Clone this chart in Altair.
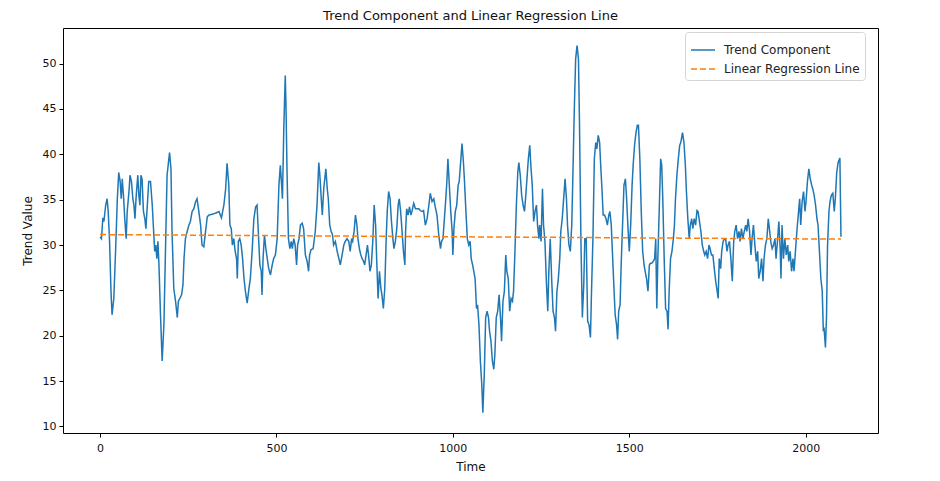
import altair as alt
import pandas as pd

# ---- data ----
trend_time = [
    0, 4, 8, 11, 16, 20, 23, 27, 31, 34, 39, 44, 49, 53, 57, 60, 63, 67, 70, 74, 77, 82, 85, 89, 93, 96, 99,
    102, 104, 107, 110, 113, 116, 119, 123, 127, 130, 134, 138, 143, 148, 153, 155, 158, 161, 164, 167, 171,
    176, 181, 186, 190, 197, 201, 204, 209, 214, 219, 222, 226, 231, 235, 238, 242, 247, 252, 256, 261, 266,
    271, 275, 280, 285, 289, 294, 299, 304, 308, 318, 327, 337, 344, 351,
    356, 360, 365, 368, 372, 375, 379, 383, 387, 389, 392, 396, 400, 404, 408, 412, 417, 422, 426, 431, 436,
    441, 445, 449, 453, 457, 459, 462, 466, 470, 474, 478, 483, 488, 492, 497, 502, 507, 511, 514, 517, 521,
    525, 527, 530, 534, 538, 542, 545, 549, 553, 557, 560, 564, 568, 573, 577, 582, 587, 591, 594, 598, 604,
    610, 615, 620, 623, 627, 630, 634, 640, 644, 647, 651, 655, 659, 662, 667, 672, 677, 681, 686, 691, 695,
    700, 705,
    709, 713, 716, 720, 724, 728, 731, 735, 739, 743, 747, 750, 754, 758, 762, 765, 769, 773, 777, 781, 784,
    788, 792, 796, 799, 803, 807, 811, 814, 818, 822, 826, 830, 833, 837, 841, 845, 848, 852, 856, 860, 864,
    866, 869, 873, 877, 881, 884, 889, 894, 899, 903, 908, 913, 917, 922, 927, 932, 936, 941, 946, 950, 955,
    960, 965, 968, 972, 976, 980, 983, 986, 990, 994, 998, 1000, 1003, 1007, 1011, 1015, 1018, 1022, 1026,
    1030, 1033, 1037, 1041, 1045, 1049, 1052, 1056,
    1063, 1067, 1070, 1074, 1078, 1082, 1085, 1089, 1093, 1097, 1101, 1104, 1108, 1112, 1116, 1119, 1123,
    1127, 1131, 1135, 1138, 1142, 1146, 1150, 1153, 1157, 1161, 1165, 1169, 1172, 1176, 1180, 1184, 1187,
    1191, 1195, 1199, 1203, 1206, 1210, 1214, 1218, 1221, 1225, 1229, 1233, 1237, 1240, 1244, 1246, 1250,
    1254, 1257, 1261, 1265, 1269, 1272, 1276, 1280, 1284, 1288, 1291, 1295, 1299, 1303, 1306, 1310, 1314,
    1318, 1322, 1325, 1329, 1333, 1337, 1340, 1344, 1348, 1352, 1356, 1359, 1363, 1367, 1371, 1374, 1378,
    1382, 1386, 1390, 1393, 1397, 1401, 1405, 1408, 1412, 1416,
    1419, 1423, 1426, 1430, 1434, 1438, 1442, 1445, 1449, 1453, 1457, 1460, 1464, 1467, 1470, 1474, 1477,
    1481, 1485, 1489, 1492, 1496, 1500, 1504, 1508, 1511, 1515, 1519, 1523, 1526, 1530, 1534, 1538, 1542,
    1545, 1549, 1553, 1557, 1560, 1564, 1568, 1572, 1575, 1578, 1581, 1585, 1589, 1592, 1595, 1599, 1603,
    1607, 1610, 1613, 1617, 1621, 1625, 1628, 1631, 1635, 1639, 1643, 1646, 1651, 1655, 1659, 1662, 1666,
    1670, 1673, 1677, 1680, 1684, 1688, 1692, 1695, 1699, 1703, 1707, 1711, 1714, 1718, 1722, 1726, 1729,
    1733, 1737, 1741, 1745, 1748, 1752, 1755, 1759, 1762, 1766, 1770,
    1773, 1777, 1780, 1784, 1788, 1792, 1796, 1799, 1803, 1807, 1811, 1814, 1818, 1822, 1826, 1830, 1833,
    1837, 1841, 1845, 1848, 1852, 1856, 1860, 1864, 1867, 1871, 1875, 1879, 1882, 1886, 1890, 1894, 1898,
    1901, 1905, 1909, 1913, 1916, 1920, 1924, 1928, 1930, 1933, 1937, 1941, 1945, 1949, 1952, 1956, 1960,
    1964, 1967, 1971, 1975, 1979, 1983, 1986, 1990, 1994, 1998, 2001, 2005, 2009, 2013, 2017, 2020, 2024,
    2028, 2032, 2035, 2039, 2043, 2047, 2050, 2052, 2056, 2059, 2062, 2066, 2069, 2073, 2077, 2081, 2084,
    2088, 2092, 2097, 2100,
]
trend_value = [
    30.9, 30.7, 33.0, 32.6, 34.4, 35.1, 33.8, 30.4, 24.9, 22.3, 24.1, 29.3, 35.1, 38.0, 37.0, 35.1, 37.3,
    35.1, 32.9, 30.7, 33.7, 35.9, 37.7, 37.0, 35.1, 34.4, 32.9, 35.1, 36.2, 37.7, 35.5, 34.4, 37.7, 37.3,
    33.7, 32.9, 31.8, 34.4, 37.0, 37.0, 34.4, 30.7, 29.3, 30.0, 28.5, 30.4, 27.8, 22.7, 17.2, 21.2, 30.4,
    37.7, 40.2, 38.4, 31.5, 25.2, 23.8, 22.0, 23.8, 24.1, 24.5, 25.6, 28.5, 30.7, 31.5, 32.2, 32.6, 33.7,
    34.0, 34.8, 35.1, 33.7, 32.2, 30.0, 29.8, 31.5, 33.1, 33.3, 33.4, 33.5, 33.7, 33.0, 34.4,
    36.2, 39.0, 36.6, 32.2, 31.8, 30.0, 30.7, 29.3, 28.5, 26.3, 30.4, 30.7, 30.0, 28.5, 26.3, 24.9, 23.6,
    25.2, 26.3, 29.3, 32.9, 34.2, 34.4, 31.1, 27.8, 27.1, 24.5, 28.5, 31.1, 29.6, 28.5, 27.4, 26.7, 27.8,
    28.5, 28.9, 30.7, 36.6, 38.8, 37.0, 35.1, 43.2, 48.7, 45.4, 38.0, 30.7, 29.6, 30.4, 29.6, 30.7, 30.0,
    27.8, 30.0, 30.7, 32.2, 32.4, 31.8, 28.9, 28.2, 27.1, 28.9, 29.5, 29.6, 31.5, 34.4, 39.1, 37.7, 35.1,
    33.3, 36.2, 38.4, 36.2, 35.1, 32.2, 31.5, 31.1, 30.0, 30.4, 29.3, 28.5, 27.8, 28.9, 30.0, 30.4, 30.7,
    30.4,
    29.3, 30.7, 30.4, 31.5, 33.3, 32.2, 30.7, 29.6, 28.9, 28.5, 28.2, 27.8, 28.9, 30.0, 28.5, 27.1, 27.8,
    30.4, 34.4, 32.2, 28.5, 24.1, 27.1, 25.2, 24.5, 23.0, 25.2, 30.7, 33.7, 35.9, 35.1, 32.6, 30.7, 29.6,
    30.4, 31.8, 34.4, 35.1, 33.7, 31.5, 29.3, 27.8, 31.5, 34.0, 33.3, 34.2, 33.3, 33.7, 34.6, 34.0, 34.0,
    34.0, 33.8, 33.7, 33.8, 32.2, 32.9, 34.4, 35.7, 34.8, 35.1, 34.2, 33.3, 31.1, 29.6, 30.4, 30.7, 32.9,
    35.1, 37.0, 39.5, 36.6, 33.7, 31.5, 28.9, 31.8, 33.7, 34.4, 36.6, 37.0, 39.1, 41.2, 39.1, 37.0, 33.7,
    30.7, 30.0, 30.4, 28.5, 27.8,
    26.3, 23.0, 23.4, 21.2, 17.2, 14.6, 11.5, 15.7, 22.0, 22.7, 22.0, 20.5, 19.4, 17.2, 16.3, 17.9, 22.0,
    22.7, 24.5, 22.0, 19.4, 23.8, 24.9, 28.9, 27.1, 26.3, 22.7, 24.1, 23.8, 24.9, 29.3, 34.4, 38.0, 39.1,
    37.7, 35.5, 34.4, 33.7, 35.1, 37.3, 39.5, 41.0, 38.8, 36.6, 32.6, 33.7, 34.4, 32.2, 30.7, 32.2, 30.4,
    36.2, 32.2, 30.4, 26.0, 22.7, 27.1, 30.7, 26.3, 22.7, 22.0, 20.5, 24.9, 26.3, 28.5, 31.5, 32.9, 35.1,
    37.3, 35.1, 32.2, 30.0, 29.3, 32.2, 37.3, 44.6, 50.5, 52.0, 50.5, 43.2, 30.4, 22.0, 25.6, 30.7, 30.7,
    21.6, 21.2, 19.8, 24.9, 30.7, 39.5, 41.3, 40.6, 42.1, 41.3,
    38.8, 35.9, 33.3, 33.3, 32.9, 32.2, 33.3, 33.7, 32.2, 28.5, 24.9, 22.3, 21.2, 19.6, 22.7, 23.4, 27.8,
    32.2, 36.6, 37.3, 35.5, 32.2, 29.3, 32.2, 36.6, 38.8, 41.0, 42.4, 43.2, 43.2, 39.5, 33.7, 29.3, 27.8,
    27.1, 26.3, 24.9, 27.8, 28.0, 28.0, 28.2, 28.5, 30.7, 23.0, 28.5, 34.0, 39.5, 38.8, 35.1, 28.5, 23.0,
    22.7, 20.7, 24.9, 28.5, 29.3, 30.7, 32.2, 35.1, 37.7, 39.5, 41.0, 41.3, 42.4, 41.3, 38.8, 35.9, 32.9,
    30.7, 32.2, 32.9, 31.8, 32.9, 32.2, 33.8, 33.7, 32.6, 31.5, 30.0, 29.3, 28.9, 29.3, 28.5, 30.0, 29.6,
    28.9, 28.9, 27.4, 26.0, 25.2, 24.1, 28.5, 27.4, 29.3, 30.4, 30.7,
    30.7, 29.3, 30.0, 30.4, 28.5, 26.0, 30.4, 31.5, 32.2, 30.7, 31.5, 30.4, 31.8, 30.7, 31.5, 32.2, 31.5,
    32.9, 31.5, 28.9, 30.7, 32.2, 30.0, 28.2, 29.3, 26.3, 27.1, 28.5, 26.0, 28.5, 30.0, 30.7, 32.9, 31.5,
    30.4, 29.6, 30.0, 30.7, 28.5, 30.4, 32.6, 29.3, 26.3, 32.2, 28.5, 30.7, 28.9, 30.0, 28.2, 29.3, 27.1,
    28.5, 27.1, 29.3, 31.5, 33.3, 35.1, 32.2, 34.8, 35.9, 33.7, 34.8, 37.0, 38.4, 37.3, 36.6, 36.2, 35.5,
    34.4, 32.9, 32.2, 29.3, 26.3, 24.9, 20.5, 20.9, 18.7, 22.0, 30.0, 33.7, 34.8, 35.5, 35.7, 33.7, 35.1,
    38.0, 39.1, 39.6, 30.9,
]
regression_time = [0, 2100]
regression_value = [31.15, 30.65]

series_names = ["Trend Component", "Linear Regression Line"]
series_colors = ["#1f77b4", "#ff7f0e"]
series_dashes = [[1, 0], [6, 3]]
x_ticks = [0, 500, 1000, 1500, 2000]
y_ticks = [10, 15, 20, 25, 30, 35, 40, 45, 50]

df = pd.concat([
    pd.DataFrame({"Time": trend_time, "Value": trend_value, "Series": series_names[0]}),
    pd.DataFrame({"Time": regression_time, "Value": regression_value, "Series": series_names[1]}),
])

legend = alt.Legend(
    title=None, orient="none", legendX=622, legendY=4,
    symbolType="stroke", symbolSize=576, symbolStrokeWidth=1.5,
    labelFontSize=12, labelFont="DejaVu Sans", labelColor="#222222",
    strokeColor="#d5d5d5", fillColor="white", cornerRadius=3,
    padding=5, rowPadding=-6, labelOffset=8,
)

chart = alt.Chart(df).mark_line(strokeWidth=1.5).encode(
    x=alt.X("Time:Q", scale=alt.Scale(domain=[-105, 2205], nice=False, zero=False),
            axis=alt.Axis(values=x_ticks, title="Time", format="d")),
    y=alt.Y("Value:Q", scale=alt.Scale(domain=[9.27, 53.93], nice=False, zero=False),
            axis=alt.Axis(values=y_ticks, title="Trend Value")),
    color=alt.Color("Series:N", scale=alt.Scale(domain=series_names, range=series_colors), legend=legend),
    strokeDash=alt.StrokeDash("Series:N", scale=alt.Scale(domain=series_names, range=series_dashes), legend=legend),
    detail="Series:N",
).properties(
    width=815, height=405,
    title=alt.Title("Trend Component and Linear Regression Line", fontSize=13, font="DejaVu Sans",
                    fontWeight="normal", color="#111111", offset=5),
    autosize=alt.AutoSizeParams(type="none"),
    padding={"left": 55, "top": 20, "right": 45, "bottom": 40},
).configure_view(
    stroke="black", strokeWidth=1
).configure_axis(
    grid=False, domain=False, tickColor="black", tickSize=4, tickWidth=1,
    labelFont="DejaVu Sans", labelFontSize=11, labelColor="#111111", labelPadding=3,
    titleFont="DejaVu Sans", titleFontSize=12, titleFontWeight="normal", titleColor="#111111",
).configure_axisX(titlePadding=8, labelPadding=5).configure_axisY(titlePadding=8)

chart.save("out.html", embed_options={"renderer": "svg", "actions": False})
